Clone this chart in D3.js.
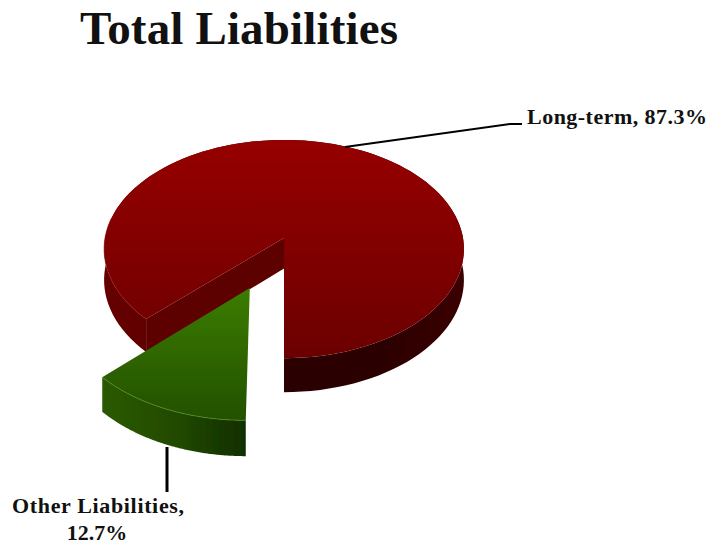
<!DOCTYPE html>
<html>
<head>
<meta charset="utf-8">
<script src="https://cdnjs.cloudflare.com/ajax/libs/d3/7.8.5/d3.min.js"></script>
<style>
  html, body { margin: 0; padding: 0; background: #fff; }
  text { font-family: "Liberation Serif", serif; font-weight: bold; fill: #111; }
</style>
</head>
<body>
<div id="chart"></div>
<script>
const title = "Total Liabilities";
const categories = ["Long-term", "Other Liabilities"];
const shares = [87.3, 12.7];

const width = 708;
const height = 545;

// centre of the pie and the tilt of its plane
const cx = 284, cy = 238;
const radiusX = 179, radiusY = 108, tilt = 0.101, depth = 30.6;
const explode = 0.48;

const svg = d3.select("#chart").append("svg")
    .attr("width", width)
    .attr("height", height)
    .attr("viewBox", [0, 0, width, height]);

const defs = svg.append("defs");

function gradient(id, x2, y2, stops, extent) {
    const g = defs.append("linearGradient")
        .attr("id", id)
        .attr("gradientUnits", "userSpaceOnUse")
        .attr("x1", extent[0]).attr("y1", extent[1])
        .attr("x2", x2).attr("y2", y2);
    stops.forEach((c, i) => g.append("stop")
        .attr("offset", i / (stops.length - 1))
        .attr("stop-color", c));
}

gradient("redTop", 0, 360, ["#960000", "#810000", "#6a0000"], [0, 140]);
gradient("redWall", 464, 0, ["#660000", "#5a0000", "#2c0000", "#2a0000", "#3a0000"], [104, 0]);
gradient("greenTop", 0, 420, ["#3b7d00", "#2f6600", "#245000"], [0, 288]);
gradient("greenWall", 248, 0, ["#2b5a00", "#234a00", "#102e00"], [102, 0]);

defs.append("filter").attr("id", "soft")
    .append("feGaussianBlur").attr("stdDeviation", 0.6);

// pie angle + offset in the plane -> screen position
function project(angle, radius, off, drop) {
    const u = Math.sin(angle) * radius + off[0];
    const v = -Math.cos(angle) * radius + off[1];
    const w = 1 - tilt * v;
    return [cx + radiusX * u / w, cy + radiusY * v / w + (drop ? depth / w : 0)];
}

const arcs = d3.pie().sort(null)
    .startAngle(Math.PI + 2 * Math.PI * shares[1] / 100)
    .endAngle(3 * Math.PI + 2 * Math.PI * shares[1] / 100)(shares);

const line = d3.line();
const edge = (a, off, drop) => d3.range(0, 121)
    .map(i => project(a.startAngle + (a.endAngle - a.startAngle) * i / 120, 1, off, drop));
const closed = pts => line(pts) + "Z";

const red = arcs[0], green = arcs[1];
const mid = (green.startAngle + green.endAngle) / 2;
const none = [0, 0];
const shift = [Math.sin(mid) * explode + 0.004, -Math.cos(mid) * explode];

const chart = svg.append("g").attr("filter", "url(#soft)");

// red slice: outer wall, wall of the cut, top
chart.append("path")
    .attr("d", closed(edge(red, none, false).concat(edge(red, none, true).reverse())))
    .attr("fill", "url(#redWall)");
chart.append("path")
    .attr("d", closed([
        project(0, 0, none, false),
        project(red.startAngle, 1, none, false),
        project(red.startAngle, 1, none, true),
        project(0, 0, none, true)
    ]))
    .attr("fill", "#5c0000");
chart.append("path")
    .attr("d", closed([project(0, 0, none, false)].concat(edge(red, none, false))))
    .attr("fill", "url(#redTop)");

// light rim on the left front of the red top
chart.append("path")
    .attr("d", line(edge(red, none, false).slice(0, 22)))
    .attr("fill", "none")
    .attr("stroke", "#a01515")
    .attr("stroke-opacity", 0.6)
    .attr("stroke-width", 1);

// green slice pulled out of the pie
chart.append("path")
    .attr("d", closed(edge(green, shift, false).concat(edge(green, shift, true).reverse())))
    .attr("fill", "url(#greenWall)");
chart.append("path")
    .attr("d", closed([project(0, 0, shift, false)].concat(edge(green, shift, false))))
    .attr("fill", "url(#greenTop)");
chart.append("path")
    .attr("d", line(edge(green, shift, false)))
    .attr("fill", "none")
    .attr("stroke", "#4f9020")
    .attr("stroke-opacity", 0.8)
    .attr("stroke-width", 1);

// leader lines
svg.append("path")
    .attr("d", line([[345, 147], [510, 124], [522, 124]]))
    .attr("fill", "none").attr("stroke", "#000").attr("stroke-width", 2);
svg.append("path")
    .attr("d", line([[167, 447], [167, 492]]))
    .attr("fill", "none").attr("stroke", "#000").attr("stroke-width", 3);

// texts
svg.append("text")
    .attr("x", 80).attr("y", 44)
    .attr("font-size", 47)
    .attr("textLength", 318)
    .text(title);
svg.append("text")
    .attr("x", 527).attr("y", 124)
    .attr("font-size", 22)
    .attr("textLength", 180)
    .text(`${categories[0]}, ${shares[0]}%`);
svg.append("text")
    .attr("x", 12).attr("y", 513)
    .attr("font-size", 22)
    .attr("textLength", 172)
    .text(`${categories[1]},`);
svg.append("text")
    .attr("x", 97).attr("y", 540)
    .attr("text-anchor", "middle")
    .attr("font-size", 22)
    .text(`${shares[1]}%`);
</script>
</body>
</html>
